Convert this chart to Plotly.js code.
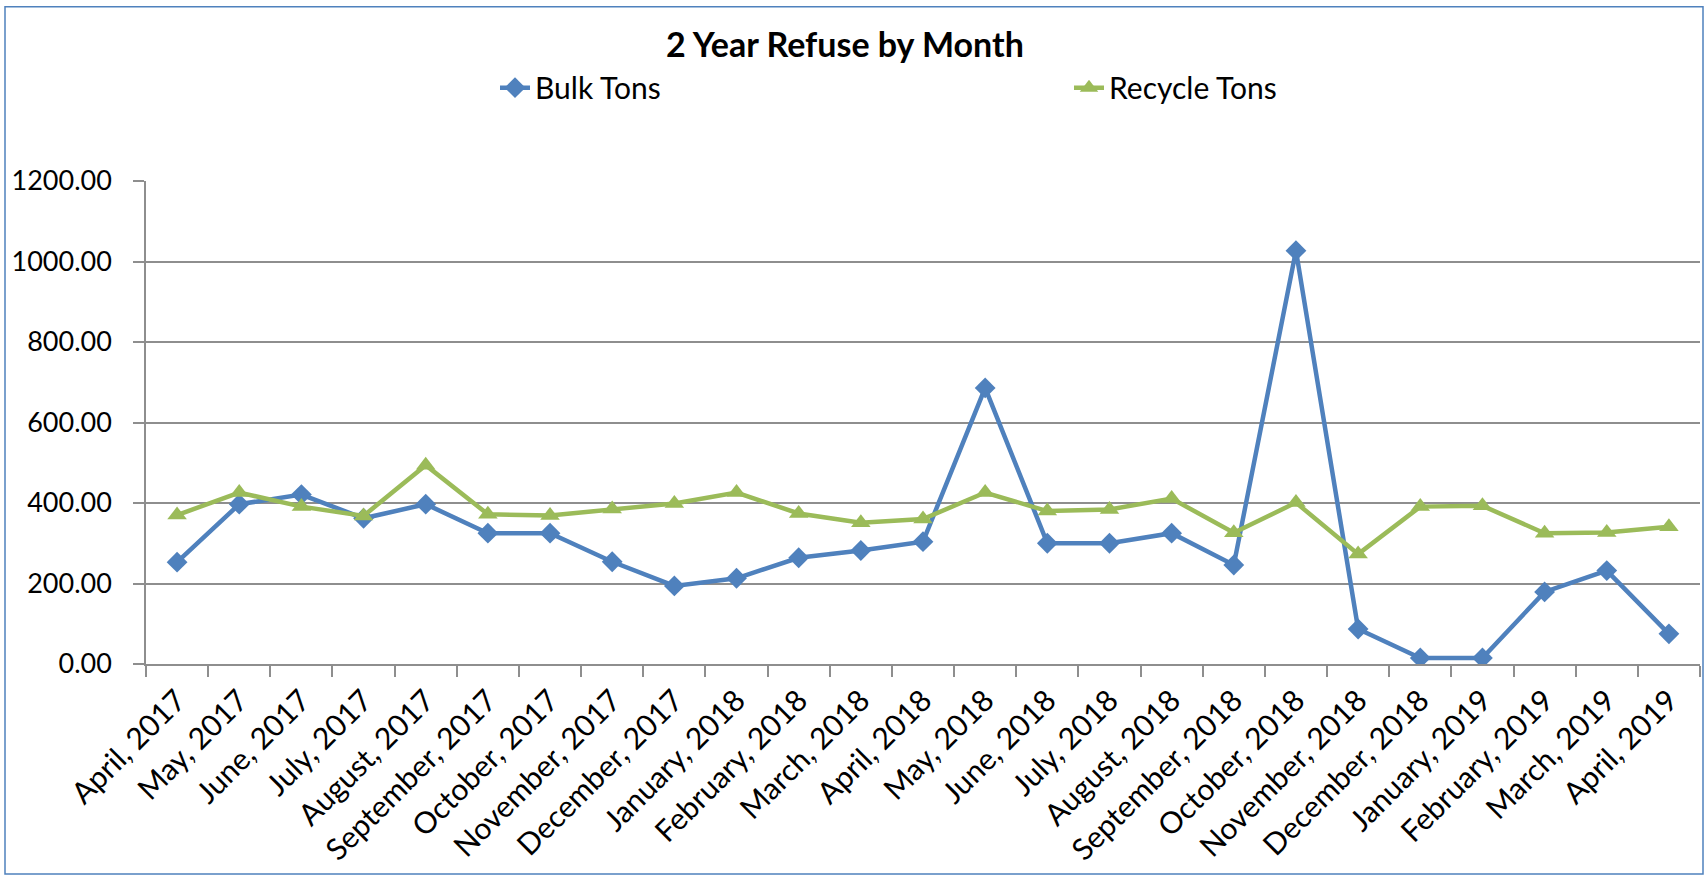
<!DOCTYPE html>
<html>
<head>
<meta charset="utf-8">
<script src="https://cdn.plot.ly/plotly-3.0.1.min.js"></script>
<style>
  html, body { margin: 0; padding: 0; background: #ffffff; }
  #chart { width: 1707px; height: 877px; }
</style>
</head>
<body>
<div id="chart"></div>
<script>
const months = ["April, 2017", "May, 2017", "June, 2017", "July, 2017", "August, 2017",
  "September, 2017", "October, 2017", "November, 2017", "December, 2017", "January, 2018",
  "February, 2018", "March, 2018", "April, 2018", "May, 2018", "June, 2018", "July, 2018",
  "August, 2018", "September, 2018", "October, 2018", "November, 2018", "December, 2018",
  "January, 2019", "February, 2019", "March, 2019", "April, 2019"];
const bulkTons = [253, 397, 421, 362, 397, 325, 325, 254, 194, 213, 264, 282, 304, 686, 300,
  300, 325, 246, 1027, 87, 15, 15, 179, 232, 75];
const recycleTons = [370, 426, 391, 368, 494, 372, 369, 385, 399, 426, 374, 351, 360, 426, 380,
  384, 411, 326, 401, 273, 391, 393, 325, 327, 341];
const yTicks = [0, 200, 400, 600, 800, 1000, 1200];

const FONT = "Lato, 'Open Sans', sans-serif";
const GRID = "#8e8e8e";

const traces = [
  {
    name: "Bulk Tons", x: months, y: bulkTons, type: "scatter", mode: "lines+markers",
    line: { color: "#4F81BD", width: 4.5 },
    marker: { symbol: "diamond", size: 16, color: "#4F81BD" }
  },
  {
    name: "Recycle Tons", x: months, y: recycleTons, type: "scatter", mode: "lines+markers",
    line: { color: "#9BBB59", width: 4.5 },
    marker: { symbol: "triangle-up", size: 17, color: "#9BBB59" }
  }
];

const L = 146, R = 7, T = 180.5, B = 212.5;
const W = 1707, H = 877;
const pw = W - L - R, ph = H - T - B;
const py = v => (H - B - v) / ph;
const px = v => (v - L) / pw;

const layout = {
  width: W, height: H,
  margin: { l: L, r: R, t: T, b: B, pad: 0 },
  paper_bgcolor: "#ffffff", plot_bgcolor: "#ffffff",
  font: { family: FONT, color: "#000000", size: 26 },
  title: {
    text: "<b>2 Year Refuse by Month</b>",
    font: { family: FONT, size: 34, color: "#000000" },
    x: 0.495, xanchor: "center", xref: "container",
    y: 1 - 45 / H, yanchor: "middle", yref: "container"
  },
  showlegend: true,
  legend: {
    orientation: "h",
    x: px(495), xanchor: "left",
    y: py(87), yanchor: "middle",
    font: { family: FONT, size: 30, color: "#000000" },
    entrywidth: 529,
    bgcolor: "rgba(0,0,0,0)"
  },
  xaxis: {
    type: "category",
    range: [-0.5, months.length - 0.5],
    autorange: false,
    showgrid: false,
    showline: true, linecolor: GRID, linewidth: 1.5,
    ticks: "outside", tickson: "boundaries", ticklen: 11, tickcolor: GRID, tickwidth: 1.5,
    tickangle: -45,
    ticklabelstandoff: 5,
    tickfont: { family: FONT, size: 30, color: "#000000" },
    zeroline: false, fixedrange: true
  },
  yaxis: {
    range: [0, 1200],
    tickmode: "array", tickvals: yTicks,
    ticktext: yTicks.map(v => v.toFixed(2)),
    showgrid: true, gridcolor: GRID, gridwidth: 1.5,
    showline: true, linecolor: GRID, linewidth: 1.5,
    ticks: "outside", ticklen: 11, tickcolor: GRID, tickwidth: 1.5,
    ticklabelstandoff: 16,
    tickfont: { family: FONT, size: 27, color: "#000000" },
    zeroline: false, fixedrange: true
  },
  shapes: [{
    type: "rect", xref: "paper", yref: "paper", layer: "below",
    x0: px(5), x1: px(1703),
    y0: py(875), y1: py(6),
    line: { color: "#4F81BD", width: 1.5 }, fillcolor: "rgba(0,0,0,0)"
  }]
};

Plotly.newPlot("chart", traces, layout, { displayModeBar: false, responsive: false });
</script>
</body>
</html>
